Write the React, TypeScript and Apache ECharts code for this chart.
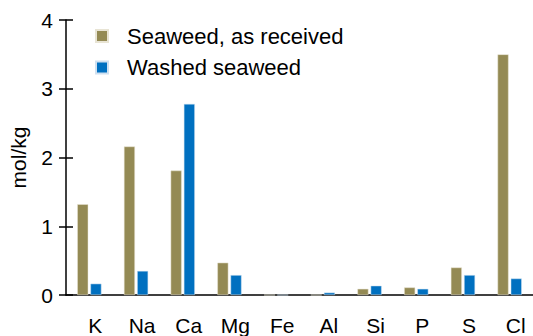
import React, { useEffect, useRef } from "react";
import * as echarts from "echarts";

const categories = ["K", "Na", "Ca", "Mg", "Fe", "Al", "Si", "P", "S", "Cl"];
const asReceived = [1.32, 2.16, 1.81, 0.47, 0, 0, 0.09, 0.11, 0.4, 3.5];
const washed = [0.165, 0.35, 2.78, 0.29, 0, 0.035, 0.135, 0.09, 0.29, 0.24];
const yTicks = { min: 0, max: 4, interval: 1 };
const seriesNames = ["Seaweed, as received", "Washed seaweed"];

const FONT = "Liberation Sans, Arial, sans-serif";

export default function App() {
  const ref = useRef<HTMLDivElement>(null);
  useEffect(() => {
    if (!ref.current) return;
    const chart = echarts.init(ref.current, undefined, { renderer: "svg" });
    const yBase = {
      type: "value" as const,
      min: yTicks.min,
      max: yTicks.max,
      interval: yTicks.interval,
      splitLine: { show: false },
    };
    chart.setOption({
      animation: false,
      grid: { left: 63, top: 20, height: 276, width: 476 },
      legend: {
        orient: "vertical",
        left: 90,
        top: 20,
        itemWidth: 12,
        itemHeight: 12,
        itemGap: 9.5,
        icon: "rect",
        textStyle: { fontFamily: FONT, fontSize: 22, color: "#000", padding: [0, 0, 0, 14] },
        data: seriesNames,
      },
      xAxis: {
        type: "category",
        data: categories,
        axisLine: { show: true, lineStyle: { color: "#000", width: 1.5 } },
        axisTick: { show: false },
        axisLabel: {
          fontFamily: FONT,
          fontSize: 21,
          color: "#000",
          margin: 20,
          padding: [0, 0, 0, 12],
        },
      },
      yAxis: [
        {
          ...yBase,
          name: "mol/kg",
          nameLocation: "middle",
          nameGap: 37,
          nameTextStyle: { fontFamily: FONT, fontSize: 21, color: "#000" },
          axisLine: { show: true, lineStyle: { color: "#000", width: 1.5 } },
          axisTick: { show: true, length: 7, lineStyle: { color: "#000", width: 1.5 } },
          axisLabel: { fontFamily: FONT, fontSize: 21, color: "#000", margin: 13 },
        },
        {
          ...yBase,
          position: "left",
          axisLine: { show: false },
          axisTick: { show: true, inside: true, length: 7, lineStyle: { color: "#000", width: 1.5 } },
          axisLabel: { show: false },
        },
      ],
      series: [
        {
          name: seriesNames[0],
          type: "bar",
          data: asReceived,
          barWidth: 11,
          barGap: "20%",
          itemStyle: { color: "#948A54", borderColor: "#e8e4d4", borderWidth: 0.5 },
        },
        {
          name: seriesNames[1],
          type: "bar",
          data: washed,
          barWidth: 11,
          barGap: "20%",
          itemStyle: { color: "#0070C0", borderColor: "#cfe0f0", borderWidth: 0.5 },
        },
      ],
    });
    return () => chart.dispose();
  }, []);
  return <div ref={ref} style={{ width: 533, height: 336, position: "absolute", left: 0, top: 0 }} />;
}
